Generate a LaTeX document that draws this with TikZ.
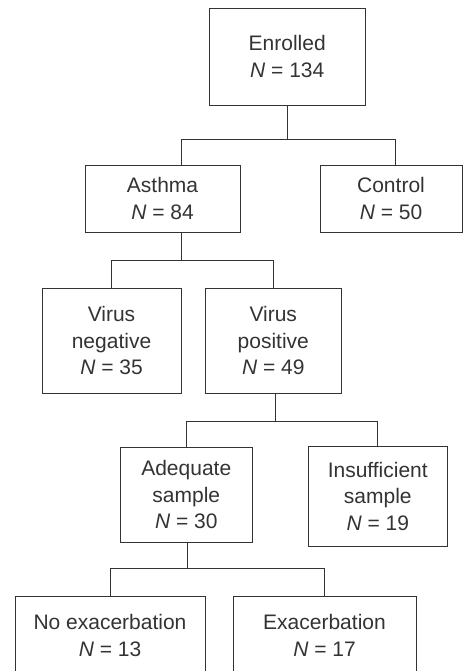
\documentclass[tikz,border=0pt]{standalone}
\usepackage{fontspec}
\setmainfont{Liberation Sans}
\definecolor{inkgray}{HTML}{333333}
\tikzset{
  box/.style={draw=inkgray, line width=0.9pt, align=center, text=inkgray,
    inner sep=0pt, font=\fontsize{21}{26.5}\selectfont},
  link/.style={draw=inkgray, line width=0.9pt}
}
\newcommand{\Nis}[1]{\textit{N} = #1}
\begin{document}
\begin{tikzpicture}[x=1pt,y=-1pt]
      \useasboundingbox (0,0) rectangle (463,671);
      \draw
        (287.25,56.5) node[box, minimum width=155.5pt, minimum height=97pt] (enr){Enrolled\\\Nis{134}}
        (162.5,198.5) node[box, minimum width=155pt, minimum height=67pt] (asthma){Asthma\\\Nis{84}}
        (391,198.5) node[box, minimum width=142pt, minimum height=67pt] (ctrl){Control\\\Nis{50}}
        (111.5,340.5) node[box, minimum width=139pt, minimum height=105pt] (vneg){Virus\\negative\\\Nis{35}}
        (273.25,340.5) node[box, minimum width=135.5pt, minimum height=105pt] (vpos){Virus\\positive\\\Nis{49}}
        (186.25,494.5) node[box, minimum width=131.5pt, minimum height=95pt] (adeq){Adequate\\sample\\\Nis{30}}
        (377.75,496) node[box, minimum width=139.5pt, minimum height=100pt] (insuf){Insufficient\\sample\\\Nis{19}}
        (110,635.5) node[box, minimum width=190pt, minimum height=79pt] (noexac){No exacerbation\\\Nis{13}}
        (324.5,635.5) node[box, minimum width=183pt, minimum height=79pt] (exac){Exacerbation\\\Nis{17}};
      \begin{scope}[link]
        \draw (enr.south) -- ++(0,34) coordinate (s1);
        \draw ([xshift=19pt]asthma.north) |- (s1) -| ([xshift=4pt]ctrl.north);
        \draw ([xshift=19pt]asthma.south) -- ++(0,28) coordinate (s2);
        \draw (vneg.north) |- (s2) -| (vpos.north);
        \draw ([xshift=2pt]vpos.south) -- ++(0,28) coordinate (s3);
        \draw (adeq.north) |- (s3) -| (insuf.north);
        \draw ([xshift=1pt]adeq.south) -- ++(0,26) coordinate (s4);
        \draw (noexac.north) |- (s4) -| (exac.north);
      \end{scope}
    \end{tikzpicture}
\end{document}
